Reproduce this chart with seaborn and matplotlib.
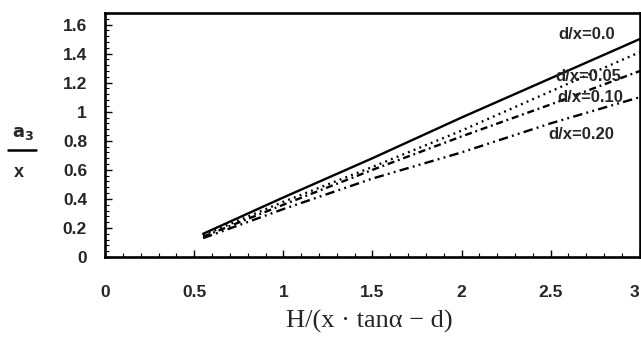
import matplotlib
matplotlib.use("Agg")
import matplotlib.pyplot as plt
from matplotlib.ticker import MultipleLocator
from matplotlib.lines import Line2D
import seaborn as sns
import pandas as pd

# data
x_vals = [0.55, 1.0, 1.5, 2.0, 2.5, 3.0]
d_00 = [0.16, 0.41, 0.68, 0.96, 1.23, 1.50]
d_05 = [0.15, 0.38, 0.62, 0.87, 1.14, 1.41]
d_10 = [0.14, 0.36, 0.60, 0.83, 1.05, 1.28]
d_20 = [0.13, 0.33, 0.54, 0.72, 0.92, 1.10]
series_names = ["d/x=0.0", "d/x=0.05", "d/x=0.10", "d/x=0.20"]
x_ticks = [0, 0.5, 1, 1.5, 2, 2.5, 3]
x_tick_labels = ["0", "0.5", "1", "1.5", "2", "2.5", "3"]
y_ticks = [0, 0.2, 0.4, 0.6, 0.8, 1.0, 1.2, 1.4, 1.6]
y_tick_labels = ["0", "0.2", "0.4", "0.6", "0.8", "1", "1.2", "1.4", "1.6"]

rows = []
for name, vals in zip(series_names, [d_00, d_05, d_10, d_20]):
    for xv, yv in zip(x_vals, vals):
        rows.append({"x": xv, "y": yv, "series": name})
df = pd.DataFrame(rows)

sns.set_theme(style="white")
plt.rcParams["font.family"] = ["Liberation Sans", "DejaVu Sans"]

fig = plt.figure(figsize=(6.41, 3.40), dpi=100)
fig.patch.set_facecolor("white")
ax = fig.add_axes([0.164, 0.244, 0.834, 0.718])

dashes = {"d/x=0.0": "", "d/x=0.05": (0.8, 1.8), "d/x=0.10": (3, 1.6, 0.8, 1.6),
          "d/x=0.20": (4, 1.8, 0.8, 1.8, 0.8, 1.8)}
sns.lineplot(data=df, x="x", y="y", style="series", dashes=dashes,
             color="black", linewidth=1.7, legend=False, ax=ax)

ax.set_xlim(0, 3)
ax.set_ylim(0, 1.68)
ax.set_xticks(x_ticks)
ax.set_xticklabels(x_tick_labels)
ax.set_yticks(y_ticks)
ax.set_yticklabels(y_tick_labels)
ax.xaxis.set_minor_locator(MultipleLocator(0.1))
ax.yaxis.set_minor_locator(MultipleLocator(0.04))
ax.tick_params(which="both", direction="in", color="black", bottom=True, left=True)
ax.tick_params(which="major", length=5, width=1.0)
ax.tick_params(which="minor", length=3, width=0.8)
ax.tick_params(axis="x", pad=20)
ax.tick_params(axis="y", pad=13)
for lbl in ax.get_xticklabels() + ax.get_yticklabels():
    lbl.set_fontweight("bold")
    lbl.set_fontsize(12.5)
xl = ax.get_xticklabels()
xl[-1].set_horizontalalignment("right")
for sp in ax.spines.values():
    sp.set_visible(True)
    sp.set_color("black")
    sp.set_linewidth(1.9)
ax.set_xlabel("")
ax.set_ylabel("")

# line labels
label_pos = {"d/x=0.0": (2.70, 1.53), "d/x=0.05": (2.71, 1.24),
             "d/x=0.10": (2.72, 1.10), "d/x=0.20": (2.67, 0.84)}
for name in series_names:
    lx, ly = label_pos[name]
    ax.text(lx, ly, name, fontsize=12, fontweight="bold", ha="center", va="center")

fig.text(0.576, 0.055, "H/(x \u00b7 tan\u03b1 \u2212 d)", family=["Liberation Serif", "DejaVu Serif"],
         fontsize=19, ha="center", va="center")

# y label as fraction a3 / x
fig.text(0.036, 0.607, r"$\mathbf{a_3}$", fontsize=13, ha="center", va="center")
fig.add_artist(Line2D([0.012, 0.056], [0.558, 0.558], transform=fig.transFigure,
                      color="black", linewidth=1.8))
fig.text(0.030, 0.492, "x", fontsize=13, fontweight="bold", ha="center", va="center")

fig.savefig("out.png", dpi=100, facecolor="white")
